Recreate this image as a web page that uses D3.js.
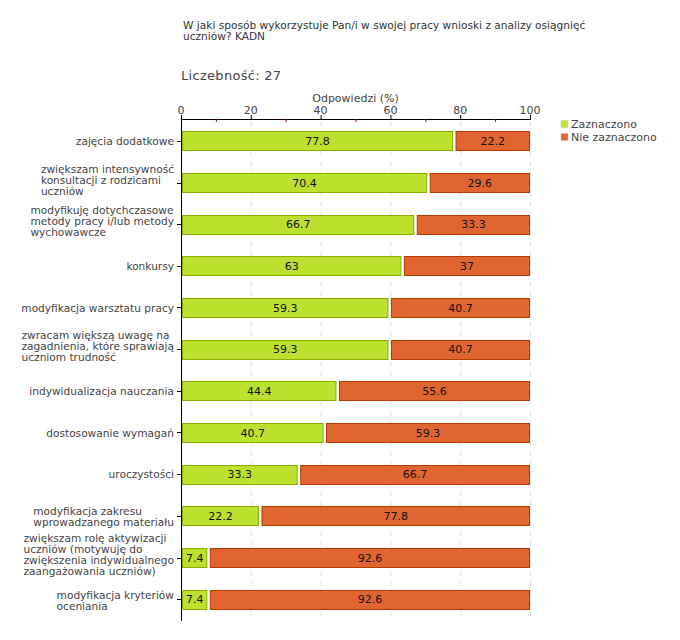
<!DOCTYPE html>
<html><head><meta charset="utf-8">
<script src="https://cdn.jsdelivr.net/npm/d3@7"></script>
<style>
body{margin:0;background:#fff;}
text{font-family:"DejaVu Sans",Verdana,sans-serif;}
</style></head>
<body><svg id="c" width="680" height="640"></svg>
<script>
const categories = [
  ["zajęcia dodatkowe"],
  ["zwiększam intensywność","konsultacji z rodzicami","uczniów"],
  ["modyfikuję dotychczasowe","metody pracy i/lub metody","wychowawcze"],
  ["konkursy"],
  ["modyfikacja warsztatu pracy"],
  ["zwracam większą uwagę na","zagadnienia, które sprawiają","uczniom trudność"],
  ["indywidualizacja nauczania"],
  ["dostosowanie wymagań"],
  ["uroczystości"],
  ["modyfikacja zakresu","wprowadzanego materiału"],
  ["zwiększam rolę aktywizacji","uczniów (motywuję do","zwiększenia indywidualnego","zaangażowania uczniów)"],
  ["modyfikacja kryteriów","oceniania"]
];
const zaznaczono = [77.8,70.4,66.7,63,59.3,59.3,44.4,40.7,33.3,22.2,7.4,7.4];
const nieZaznaczono = [22.2,29.6,33.3,37,40.7,40.7,55.6,59.3,66.7,77.8,92.6,92.6];
const seriesNames = ["Zaznaczono","Nie zaznaczono"];
const majorTicks = [0,20,40,60,80,100];
const minorTicks = [10,30,50,70,90];
const titleLines = ["W jaki sposób wykorzystuje Pan/i w swojej pracy wnioski z analizy osiągnięć","uczniów? KADN"];
const countLabel = "Liczebność: 27";
const axisTitle = "Odpowiedzi (%)";

const colors = [{fill:"#bde12f",stroke:"#8aab00"},{fill:"#e06530",stroke:"#b33a00"}];
const svg = d3.select("#c");
const x = d3.scaleLinear().domain([0,100]).range([181,530]);
const y = d3.scaleBand().domain(d3.range(categories.length)).range([120,620]).paddingInner(0.54).paddingOuter(0.27);

// title
svg.append("text").attr("x",183).attr("y",29).attr("font-size",10.6).attr("fill","#333")
  .selectAll("tspan").data(titleLines).join("tspan").attr("x",183).attr("dy",(d,i)=>i?11:0).text(d=>d);
svg.append("text").attr("x",181).attr("y",80).attr("font-size",13).attr("fill","#444").attr("letter-spacing",0.3).text(countLabel);
svg.append("text").attr("x",(x(0)+x(100))/2).attr("y",102).attr("text-anchor","middle").attr("font-size",11).attr("fill","#444").text(axisTitle);

// grid
svg.append("g").selectAll("line").data(majorTicks.slice(1)).join("line")
  .attr("x1",d=>x(d)+0.5).attr("x2",d=>x(d)+0.5).attr("y1",121).attr("y2",620)
  .attr("stroke","#e0e0e0").attr("stroke-dasharray","5,5");

// bars
const stack = [zaznaczono, nieZaznaczono];
stack.forEach((vals,s)=>{
  const g = svg.append("g");
  vals.forEach((v,i)=>{
    const start = s===0 ? 0 : zaznaczono[i];
    const x0 = x(start) + (s===0 ? 1.5 : 3.5);
    const x1 = x(start+v) - (s===0 ? 0 : 0.5);
    g.append("rect").attr("x",x0).attr("y",Math.round(y(i))+0.5)
      .attr("width",Math.max(0,x1-x0)).attr("height",Math.round(y.bandwidth()))
      .attr("fill",colors[s].fill).attr("stroke",colors[s].stroke).attr("stroke-width",1);
    g.append("text").attr("x",(x0+x1)/2).attr("y",y(i)+y.bandwidth()/2+4)
      .attr("text-anchor","middle").attr("font-size",11).attr("fill","#111").text(v);
  });
});

// x axis
const ax = svg.append("g");
ax.append("line").attr("x1",x(0)).attr("x2",x(100)+1).attr("y1",119.5).attr("y2",119.5).attr("stroke","#000");
ax.selectAll(".mj").data(majorTicks).join("line").attr("x1",d=>x(d)+0.5).attr("x2",d=>x(d)+0.5)
  .attr("y1",115).attr("y2",120).attr("stroke","#000");
ax.selectAll(".mn").data(minorTicks).join("line").attr("x1",d=>x(d)+0.5).attr("x2",d=>x(d)+0.5)
  .attr("y1",119).attr("y2",122).attr("stroke","#d00000");
ax.selectAll("text").data(majorTicks).join("text").attr("x",d=>x(d)).attr("y",114)
  .attr("text-anchor","middle").attr("font-size",11).attr("fill","#444").text(d=>d);

// y axis
svg.append("line").attr("x1",181.5).attr("x2",181.5).attr("y1",119).attr("y2",621).attr("stroke","#000");
categories.forEach((lines,i)=>{
  const cy = y(i)+y.bandwidth()/2;
  svg.append("line").attr("x1",177).attr("x2",181).attr("y1",Math.round(cy)+0.5).attr("y2",Math.round(cy)+0.5).attr("stroke","#000");
  const n = lines.length, lh = 11;
  const off = n===1 ? 0 : (n===2 ? 1 : -3);
  const t = svg.append("text").attr("font-size",10.6).attr("fill","#444");
  const spans = lines.map((l,k)=>t.append("tspan").attr("x",0).attr("y",cy + off + (k-(n-1)/2)*lh + 4).text(l));
  const w = d3.max(spans, s=>s.node().getComputedTextLength());
  spans.forEach(s=>s.attr("x",174-w));
});

// legend
seriesNames.forEach((nm,i)=>{
  svg.append("rect").attr("x",561).attr("y",120.5+i*13).attr("width",7).attr("height",7)
    .attr("fill",colors[i].fill).attr("stroke","#ccc").attr("stroke-width",0.5);
  svg.append("text").attr("x",571).attr("y",128+i*13).attr("font-size",11).attr("fill","#444").text(nm);
});
</script></body></html>
